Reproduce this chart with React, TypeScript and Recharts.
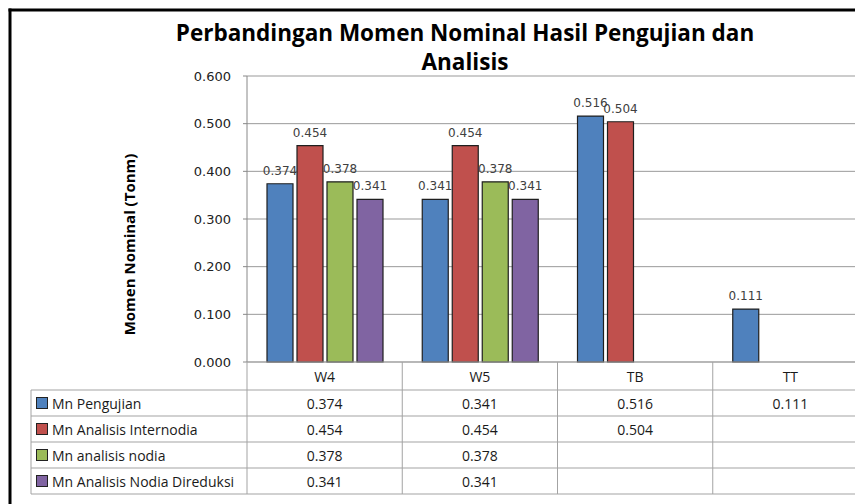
import React from "react";
import { BarChart, Bar, XAxis, YAxis, CartesianGrid, LabelList } from "recharts";

const categories = ["W4", "W5", "TB", "TT"];
const seriesNames = [
  "Mn Pengujian",
  "Mn Analisis Internodia",
  "Mn analisis  nodia",
  "Mn Analisis Nodia Direduksi",
];
const mnPengujian: (number | null)[] = [0.374, 0.341, 0.516, 0.111];
const mnInternodia: (number | null)[] = [0.454, 0.454, 0.504, null];
const mnNodia: (number | null)[] = [0.378, 0.378, null, null];
const mnDireduksi: (number | null)[] = [0.341, 0.341, null, null];
const yTicks = [0, 0.1, 0.2, 0.3, 0.4, 0.5, 0.6];

const seriesValues = [mnPengujian, mnInternodia, mnNodia, mnDireduksi];
const COLORS = ["#4f81bd", "#c0504d", "#9bbb59", "#8064a2"];
const KEYS = ["s0", "s1", "s2", "s3"];

const data = categories.map((name, i) => {
  const row: any = { name };
  seriesValues.forEach((vals, s) => {
    row[KEYS[s]] = vals[i];
  });
  return row;
});

// layout
const W = 900;
const H = 504;
const PLOT_L = 247;
const PLOT_R = 868;
const PLOT_T = 76;
const AXIS_Y = 362;
const Y_AXIS_W = 60;
const BAND = (PLOT_R - PLOT_L) / categories.length;
const TABLE_L = 31;
const ROW_TOP = 390;
const ROW_H = 26;
const TABLE_BOTTOM = ROW_TOP + ROW_H * seriesNames.length;
const LINE = "#a3a3a3";
const TABLE_FONT = "'Open Sans', sans-serif";

const LegendColumn = () => (
  <g>
    <line x1={TABLE_L} x2={TABLE_L} y1={ROW_TOP} y2={TABLE_BOTTOM} stroke={LINE} />
    <line x1={PLOT_L} x2={PLOT_L} y1={AXIS_Y} y2={TABLE_BOTTOM} stroke={LINE} />
    {seriesNames.map((_, s) => (
      <line key={"h" + s} x1={TABLE_L} x2={PLOT_R} y1={ROW_TOP + ROW_H * s} y2={ROW_TOP + ROW_H * s} stroke={LINE} />
    ))}
    <line x1={TABLE_L} x2={PLOT_R} y1={TABLE_BOTTOM} y2={TABLE_BOTTOM} stroke={LINE} />
    {seriesNames.map((name, s) => {
      const cy = ROW_TOP + ROW_H * s + ROW_H / 2;
      return (
        <g key={name}>
          <rect x={36.5} y={cy - 5.5} width={11} height={11} fill={COLORS[s]} stroke="#222" strokeWidth={1} />
          <text x={52} y={cy} dominantBaseline="central" fontFamily={TABLE_FONT} fontSize={14} fill="#1a1a1a">
            {name}
          </text>
        </g>
      );
    })}
  </g>
);

const TableTick = (props: any) => {
  const { x, payload } = props;
  const i = payload.index;
  return (
    <g>
      {i === 0 && <LegendColumn />}
      <line x1={x + BAND / 2} x2={x + BAND / 2} y1={AXIS_Y} y2={TABLE_BOTTOM} stroke={LINE} />
      <text x={x} y={(AXIS_Y + ROW_TOP) / 2} textAnchor="middle" dominantBaseline="central" fontFamily={TABLE_FONT} fontSize={14} fill="#1a1a1a">
        {payload.value}
      </text>
      {seriesValues.map((vals, s) =>
        vals[i] == null ? null : (
          <text key={s} x={x} y={ROW_TOP + ROW_H * s + ROW_H / 2} textAnchor="middle" dominantBaseline="central" fontFamily={TABLE_FONT} fontSize={14} fill="#1a1a1a">
            {(vals[i] as number).toFixed(3)}
          </text>
        )
      )}
    </g>
  );
};

export default function App() {
  return (
    <div style={{ position: "fixed", left: 0, top: 0, width: 855, height: 504, overflow: "hidden", background: "#fff" }}>
      <BarChart
        width={W}
        height={H}
        data={data}
        margin={{ top: PLOT_T, right: W - PLOT_R, bottom: 0, left: PLOT_L - Y_AXIS_W }}
        barCategoryGap={20}
        barGap={4}
      >
        <CartesianGrid vertical={false} stroke="#999" />
        <YAxis
          width={Y_AXIS_W}
          domain={[0, 0.6]}
          ticks={yTicks}
          tickFormatter={(v: number) => v.toFixed(3)}
          tick={{ fontFamily: "'DejaVu Sans', Verdana, sans-serif", fontSize: 13, fill: "#222" }}
          axisLine={{ stroke: "#888" }}
          tickLine={{ stroke: "#888" }}
          tickSize={4}
          tickMargin={12}
        />
        <XAxis
          dataKey="name"
          height={H - AXIS_Y}
          tick={<TableTick />}
          tickLine={false}
          tickSize={0}
          axisLine={{ stroke: LINE }}
          interval={0}
        />
        {KEYS.map((k, s) => (
          <Bar key={k} dataKey={k} fill={COLORS[s]} stroke="#1f1f1f" strokeWidth={1.2} isAnimationActive={false}>
            <LabelList
              dataKey={k}
              position="top"
              offset={9}
              formatter={(v: any) => (v == null ? "" : Number(v).toFixed(3))}
              style={{ fontFamily: "'DejaVu Sans', Verdana, sans-serif", fontSize: 12, fill: "#404040" }}
            />
          </Bar>
        ))}
      </BarChart>
      <svg width={855} height={504} style={{ position: "absolute", left: 0, top: 0, pointerEvents: "none" }}>
        <line x1={10} x2={10} y1={8.5} y2={504} stroke="#000" strokeWidth={3} />
        <line x1={8.5} x2={855} y1={10} y2={10} stroke="#000" strokeWidth={3} />
        <text x={465} y={40.5} textAnchor="middle" fontFamily="'Open Sans', sans-serif" fontWeight={700} fontSize={22.5} fill="#000">
          Perbandingan Momen Nominal Hasil Pengujian dan
        </text>
        <text x={465} y={70} textAnchor="middle" fontFamily="'Open Sans', sans-serif" fontWeight={700} fontSize={22.5} fill="#000">
          Analisis
        </text>
        <text
          x={129}
          y={244.5}
          transform="rotate(-90 129 244.5)"
          textAnchor="middle"
          dominantBaseline="central"
          fontFamily="'Open Sans', sans-serif"
          fontWeight={700}
          fontSize={15}
          fill="#000"
        >
          Momen Nominal (Tonm)
        </text>
      </svg>
    </div>
  );
}
